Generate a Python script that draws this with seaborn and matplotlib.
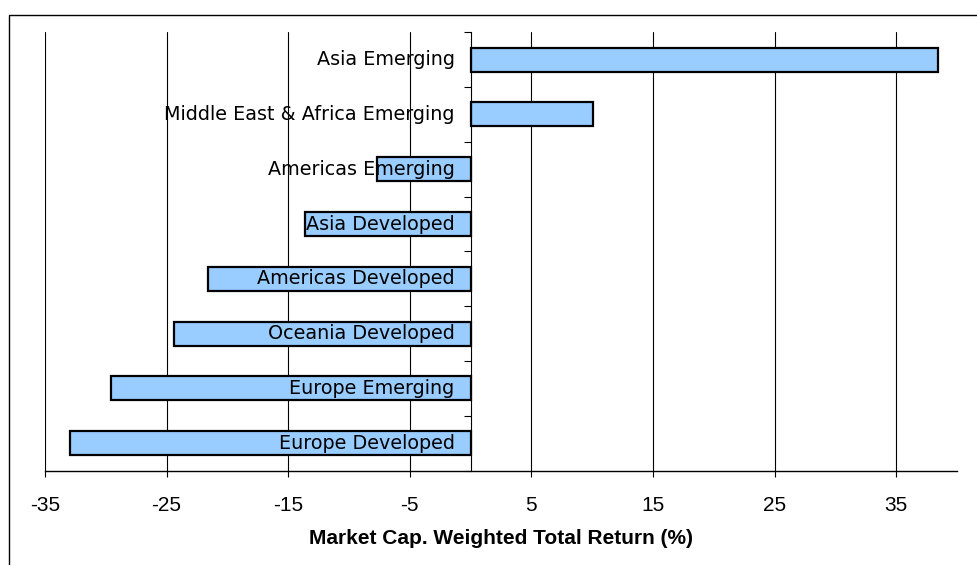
import matplotlib
matplotlib.use('Agg')
import matplotlib.pyplot as plt
import seaborn as sns
import pandas as pd
from matplotlib.patches import Rectangle
from matplotlib.transforms import offset_copy

# data
regions = ['Asia Emerging', 'Middle East & Africa Emerging', 'Americas Emerging',
           'Asia Developed', 'Americas Developed', 'Oceania Developed',
           'Europe Emerging', 'Europe Developed']
returns = [38.4, 10.1, -7.7, -13.6, -21.6, -24.4, -29.6, -32.9]
xticks = [-35, -25, -15, -5, 5, 15, 25, 35]

df = pd.DataFrame({'Region': regions, 'Return': returns})

sns.set_style('white')
plt.rcParams['font.family'] = ['Liberation Sans', 'DejaVu Sans']
plt.rcParams['text.color'] = 'black'

fig = plt.figure(figsize=(9.77, 5.65), dpi=100)
ax = fig.add_axes([0.046, 0.167, 0.9335, 0.776])

# gridlines behind bars
for t in xticks:
    ax.axvline(t, color='black', lw=0.8, zorder=0)

sns.barplot(data=df, x='Return', y='Region', orient='h', order=regions,
            color='#99CCFF', saturation=1, width=0.44,
            edgecolor='black', linewidth=1.6, ax=ax, zorder=2)

ax.set_xlim(-35, 40)
ax.set_xticks(xticks)
ax.set_xticklabels([str(t) for t in xticks], fontsize=15)
ax.tick_params(axis='x', direction='out', length=4, width=0.8, pad=14,
               bottom=True, colors='black')

# category axis at x = 0, ticks between categories
ax.spines['left'].set_position(('data', 0))
ax.spines['left'].set_linewidth(0.8)
ax.spines['bottom'].set_linewidth(1.0)
ax.spines['top'].set_visible(False)
ax.spines['right'].set_visible(False)
for s in ['left', 'bottom']:
    ax.spines[s].set_color('black')
ax.set_yticks([])
ax.set_yticks([i - 0.5 for i in range(len(regions) + 1)], minor=True)
ax.tick_params(axis='y', which='minor', direction='out', length=5,
               width=0.8, left=True, colors='black')
ax.set_ylabel('')

# labels next to the axis, drawn over the bars
trans = offset_copy(ax.transData, fig=fig, x=-16, y=0, units='dots')
for i, name in enumerate(regions):
    ax.text(0, i, name, transform=trans, ha='right', va='center',
            fontsize=13.8, family='DejaVu Sans', color='black', zorder=5)

ax.set_xlabel('Market Cap. Weighted Total Return (%)', fontsize=15,
              fontweight='bold', labelpad=10.5, color='black')

# outer chart frame (left and top edges visible)
fig.patches.append(Rectangle((0.0095, -0.05), 1.2, 0.05 + 1 - 15 / 565,
                             transform=fig.transFigure, fill=False,
                             edgecolor='black', lw=1.0))

fig.savefig('out.png', dpi=100)
